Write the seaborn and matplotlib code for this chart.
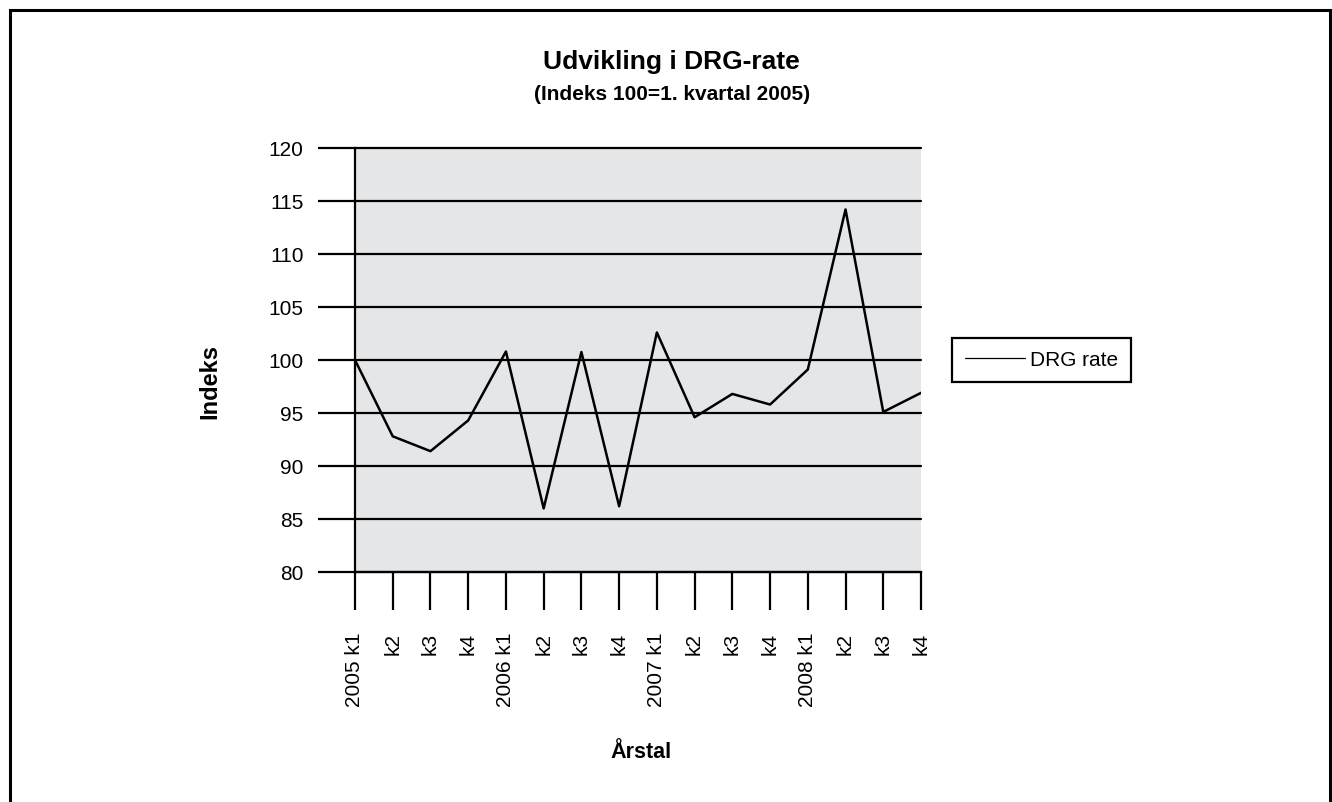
import matplotlib
matplotlib.use("Agg")
import matplotlib.pyplot as plt
import seaborn as sns
import pandas as pd
from matplotlib.patches import Rectangle

# data
quarters = ["2005 k1", "k2", "k3", "k4",
            "2006 k1", "k2", "k3", "k4",
            "2007 k1", "k2", "k3", "k4",
            "2008 k1", "k2", "k3", "k4"]
drg_rate = [100.0, 92.8, 91.4, 94.3,
            100.8, 86.0, 100.75, 86.2,
            102.6, 94.6, 96.8, 95.8,
            99.1, 114.2, 95.1, 96.9]
y_ticks = [80, 85, 90, 95, 100, 105, 110, 115, 120]

df = pd.DataFrame({"pos": range(len(quarters)), "Indeks": drg_rate, "serie": "DRG rate"})

sns.set_style("white", {"axes.facecolor": "#e5e6e8"})
plt.rcParams["font.family"] = ["Liberation Sans", "DejaVu Sans"]
plt.rcParams.update({"text.color": "black", "axes.labelcolor": "black",
                     "xtick.color": "black", "ytick.color": "black"})

fig = plt.figure(figsize=(13.32, 8.03), dpi=100)
ax = fig.add_axes([355 / 1332, 1 - 573 / 803, 566 / 1332, 424 / 803])

sns.lineplot(data=df, x="pos", y="Indeks", hue="serie", palette=["black"],
             linewidth=1.8, ax=ax, legend=True)

ax.set_xlim(0, len(quarters) - 1)
ax.set_ylim(80, 120)
ax.set_yticks(y_ticks)
ax.set_xticks(range(len(quarters)))
ax.set_xticklabels(quarters, rotation=90, fontsize=15)
ax.tick_params(axis="y", left=True, labelsize=15, length=27, width=1.6, pad=10,
               direction="out", color="black")
ax.tick_params(axis="x", bottom=True, length=27, width=1.6, pad=16, 
               direction="out", color="black")
ax.yaxis.grid(True, color="black", linewidth=1.6)
ax.xaxis.grid(False)
ax.set_axisbelow(True)
for gl in ax.get_ygridlines():
    gl.set_clip_on(False)

for side in ["top", "right"]:
    ax.spines[side].set_visible(False)
for side in ["left", "bottom"]:
    ax.spines[side].set_color("black")
    ax.spines[side].set_linewidth(1.6)

ax.set_xlabel("Årstal", fontsize=15.5, fontweight="bold")
ax.set_ylabel("Indeks", fontsize=17, fontweight="bold")
ax.xaxis.label.set_va("center")
ax.yaxis.label.set_va("center")
ax.xaxis.set_label_coords((641 - 355) / 566, (573 - 753) / 424)
ax.yaxis.set_label_coords((210 - 355) / 566, (573 - 382) / 424)

fig.text(671 / 1332, 1 - 62 / 803, "Udvikling i DRG-rate", ha="center", va="center",
         fontsize=19, fontweight="bold")
fig.text(672 / 1332, 1 - 94 / 803, "(Indeks 100=1. kvartal 2005)", ha="center", va="center",
         fontsize=15, fontweight="bold")

leg = ax.legend(loc="center left", bbox_to_anchor=(952 / 1332, 1 - 361 / 803),
                bbox_transform=fig.transFigure, fontsize=15, frameon=True,
                fancybox=False, edgecolor="black", handlelength=2.9,
                borderpad=0.62, handletextpad=0.2, borderaxespad=0, title=None)
leg.get_frame().set_linewidth(1.6)
leg.get_frame().set_facecolor("white")
leg.get_frame().set_alpha(1)
for line in leg.get_lines():
    line.set_linewidth(0.9)

# outer frame (open at the bottom, like the source)
fig.patches.append(Rectangle((10 / 1332, -0.05), 1320 / 1332, 1.05 - 11 / 803,
                             transform=fig.transFigure, fill=False,
                             edgecolor="black", linewidth=2.2))

fig.savefig("out.png", dpi=100)
